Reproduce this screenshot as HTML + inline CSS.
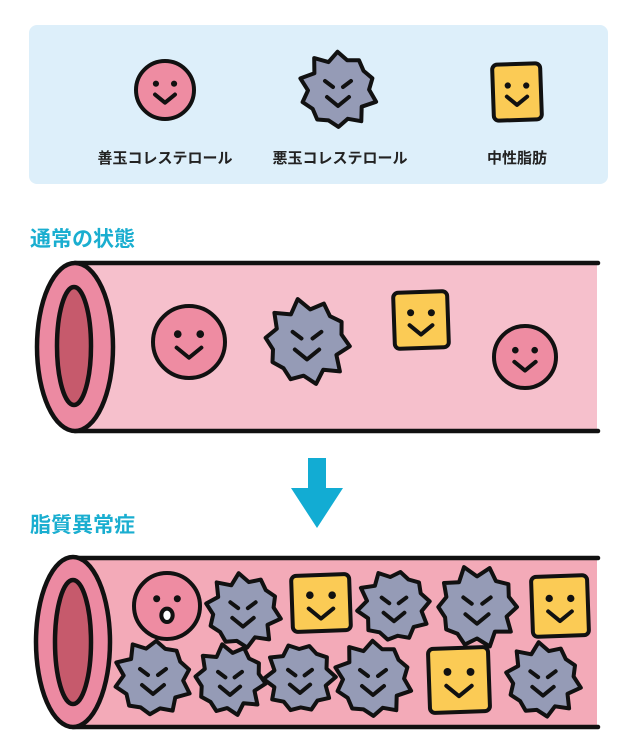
<!DOCTYPE html>
<html><head><meta charset="utf-8"><style>
html,body{margin:0;padding:0;background:#fff;width:640px;height:755px;overflow:hidden}
svg{display:block}
text{font-family:"Liberation Sans","Noto Sans CJK JP",sans-serif;font-weight:bold}
</style></head><body>
<svg id="s" width="640" height="755" viewBox="0 0 640 755" xmlns="http://www.w3.org/2000/svg">
<rect x="29" y="25" width="579" height="159" rx="8" fill="#ddeffa"/>
<text x="165" y="163" font-size="15" text-anchor="middle" fill="#222">善玉コレステロール</text>
<text x="340" y="163" font-size="15" text-anchor="middle" fill="#222">悪玉コレステロール</text>
<text x="517" y="163" font-size="15" text-anchor="middle" fill="#222">中性脂肪</text>
<text x="30" y="246" font-size="21" fill="#1aaed0">通常の状態</text>
<text x="30" y="532" font-size="21" fill="#1aaed0">脂質異常症</text>
<polygon points="308,458 326,458 326,488 343,488 317,528 291,488 308,488" fill="#12acd3"/>
<rect x="75" y="263" width="522" height="168" fill="#f6c0cc"/>
<line x1="75" y1="263" x2="598" y2="263" stroke="#111" stroke-width="4.5" stroke-linecap="round"/>
<line x1="75" y1="431" x2="598" y2="431" stroke="#111" stroke-width="4.5" stroke-linecap="round"/>
<ellipse cx="75" cy="347" rx="38" ry="84" fill="#ec8aa2" stroke="#111" stroke-width="4.5"/>
<ellipse cx="74" cy="346" rx="17" ry="59" fill="#c65a6c" stroke="#111" stroke-width="4.5"/>
<rect x="73" y="558" width="524" height="169" fill="#f3aab8"/>
<line x1="73" y1="558" x2="598" y2="558" stroke="#111" stroke-width="4.5" stroke-linecap="round"/>
<line x1="73" y1="727" x2="598" y2="727" stroke="#111" stroke-width="4.5" stroke-linecap="round"/>
<ellipse cx="73" cy="642" rx="37" ry="85" fill="#ec8aa2" stroke="#111" stroke-width="4.5"/>
<ellipse cx="73" cy="642" rx="18" ry="62" fill="#c65a6c" stroke="#111" stroke-width="4.5"/>
<g id="items"></g>
</svg>
<script>
var g=document.getElementById('items'),h='';
var S='stroke="#111" stroke-width="4" stroke-linejoin="round" stroke-linecap="round"';
function face(x,y,k,angry,oh){
 var r='';
 if(angry){
  r+='<path d="M'+(x-13*k)+','+(y-11*k)+' l'+(8*k)+','+(6*k)+' M'+(x+13*k)+','+(y-11*k)+' l'+(-8*k)+','+(6*k)+'" fill="none" '+S+'/>';
 } else {
  r+='<circle cx="'+(x-10*k)+'" cy="'+(y-7*k)+'" r="'+(3.4*k)+'" fill="#111"/><circle cx="'+(x+10*k)+'" cy="'+(y-7*k)+'" r="'+(3.4*k)+'" fill="#111"/>';
 }
 if(oh){r+='<ellipse cx="'+x+'" cy="'+(y+9*k)+'" rx="'+(5.5*k)+'" ry="'+(6.5*k)+'" fill="#fff" '+S+'/>';}
 else r+='<path d="M'+(x-11*k)+','+(y+5*k)+' L'+x+','+(y+14*k)+' L'+(x+11*k)+','+(y+5*k)+'" fill="none" '+S+'/>';
 return r;
}
function circ(x,y,r,oh){return '<circle cx="'+x+'" cy="'+y+'" r="'+r+'" fill="#ee8ca2" '+S+'/>'+face(x,y,r/32,false,oh);}
function star(x,y,r,seed){
 var n=10,p=[];
 for(var i=0;i<n*2;i++){var a=(i/(n*2))*Math.PI*2+seed;var rr=(i%2?r*0.8:r)*(1+0.05*Math.sin(i*3.7+seed*5));p.push((x+rr*Math.cos(a)).toFixed(1)+','+(y+rr*Math.sin(a)).toFixed(1));}
 return '<polygon points="'+p.join(' ')+'" fill="#959bb6" '+S+'/>'+face(x,y+2,r/38,true,false);
}
function sq(x,y,w,hh){return '<rect x="'+(x-w/2)+'" y="'+(y-hh/2)+'" width="'+w+'" height="'+hh+'" rx="5" fill="#fbcb55" '+S+' transform="rotate(-2 '+x+' '+y+')"/>'+face(x,y,w/52,false,false);}
h+=circ(165,90,29);h+=star(338,90,38,0.3);h+=sq(517,92,48,56);
h+=circ(189,342,36);h+=star(307,342,42,0.1);h+=sq(421,320,54,56);h+=circ(525,357,31);
h+=circ(167,606,33,true);h+=star(243,611,37,0.2);h+=sq(321,603,58,56);h+=star(394,606,36,0.5);h+=star(477,607,40,0.0);h+=sq(560,606,56,60);
h+=star(153,678,38,0.4);h+=star(230,680,35,0.1);h+=star(300,678,35,0.6);h+=star(373,679,38,0.3);h+=sq(459,680,60,64);h+=star(543,680,37,0.2);
g.innerHTML=h;
</script>
</body></html>
